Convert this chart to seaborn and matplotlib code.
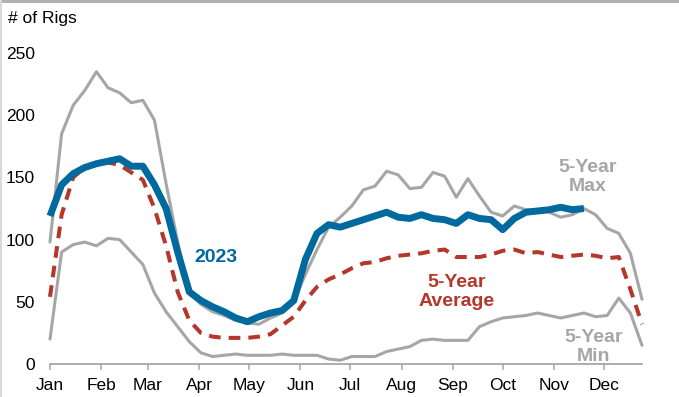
import matplotlib
matplotlib.use("Agg")
import matplotlib.pyplot as plt
import matplotlib.dates as mdates
from matplotlib.lines import Line2D
import seaborn as sns
import pandas as pd

# ---- data (weekly) ----
week_start = "2023-01-01"
n_weeks = 52

max_5y = [98, 185, 208, 220, 235, 222, 218, 210, 212, 196,
          145, 98, 57, 48, 42, 39, 35, 33, 32, 37,
          41, 50, 72, 92, 110, 118, 127, 140, 143, 155,
          152, 141, 142, 154, 151, 134, 149, 135, 122, 119,
          127, 124, 124, 122, 118, 120, 125, 120, 109, 105,
          89, 52]
min_5y = [20, 90, 96, 98, 95, 101, 100, 90, 80, 57,
          42, 30, 18, 9, 6, 7, 8, 7, 7, 7,
          8, 7, 7, 7, 4, 3, 6, 6, 6, 10,
          12, 14, 19, 20, 19, 19, 19, 30, 34, 37,
          38, 39, 41, 39, 37, 39, 41, 38, 39, 53,
          41, 15]
avg_5y = [54, 120, 150, 158, 162, 162, 160, 154, 148, 125,
          95, 58, 35, 25, 22, 21, 21, 21, 22, 24,
          31, 38, 51, 62, 68, 72, 77, 81, 82, 85,
          87, 88, 89, 91, 92, 86, 86, 86, 88, 91,
          92, 89, 90, 88, 86, 87, 88, 87, 85, 86,
          60, 32]
y2023 = [119, 144, 153, 158, 161, 163, 165, 159, 159, 144,
         125, 90, 58, 51, 46, 42, 37, 34, 38, 41,
         43, 51, 84, 105, 112, 110, 113, 116, 119, 122,
         118, 117, 120, 117, 116, 113, 120, 117, 116, 108,
         117, 122, 123, 124, 126, 124, 125]

y_ticks = [0, 50, 100, 150, 200, 250]

weeks = pd.date_range(week_start, periods=n_weeks, freq="7D")

GRAY = "#A6A6A6"
RED = "#B5362A"
BLUE = "#00699E"

sns.set_theme(style="white")
plt.rcParams["font.family"] = ["Liberation Sans", "DejaVu Sans"]

fig = plt.figure(figsize=(6.79, 3.97), dpi=100)
ax = fig.add_axes([50 / 679, 1 - 364 / 397, (642 - 50) / 679, (364 - 53) / 397])

sns.lineplot(x=weeks, y=max_5y, ax=ax, color=GRAY, linewidth=2.2, clip_on=False)
sns.lineplot(x=weeks, y=min_5y, ax=ax, color=GRAY, linewidth=2.2, clip_on=False)
sns.lineplot(x=weeks, y=avg_5y, ax=ax, color=RED, linewidth=2.9, clip_on=False)
ax.lines[-1].set_dashes([2.9, 2.0])
sns.lineplot(x=weeks[:len(y2023)], y=y2023, ax=ax, color=BLUE, linewidth=5.0,
             clip_on=False, solid_joinstyle="round", solid_capstyle="butt")

ax.set_xlim(weeks[0], weeks[-1])
ax.set_ylim(0, 250)
ax.set_yticks(y_ticks)
ax.xaxis.set_major_locator(mdates.MonthLocator())
ax.xaxis.set_major_formatter(mdates.DateFormatter("%b"))
ax.set_xlabel("")
ax.set_ylabel("")

for s in ["top", "right", "left"]:
    ax.spines[s].set_visible(False)
ax.spines["bottom"].set_color(GRAY)
ax.spines["bottom"].set_linewidth(1.3)
ax.tick_params(axis="x", direction="out", length=4, width=1.1, color=GRAY,
               pad=6, labelsize=12.5, labelcolor="black", bottom=True)
ax.tick_params(axis="y", length=0, pad=11, labelsize=12.5, labelcolor="black")
ax.grid(False)

# annotations
ax.text(pd.Timestamp("2023-04-11"), 86, "2023", color=BLUE, fontsize=14,
        fontweight="bold", ha="center", va="center")
ax.text(pd.Timestamp("2023-09-03"), 58, "5-Year\nAverage", color=RED, fontsize=14,
        fontweight="bold", ha="center", va="center", linespacing=1.15)
ax.text(pd.Timestamp("2023-11-21"), 150, "5-Year\nMax", color=GRAY, fontsize=14,
        fontweight="bold", ha="center", va="center", linespacing=1.15)
ax.text(pd.Timestamp("2023-11-25"), 14, "5-Year\nMin", color=GRAY, fontsize=14,
        fontweight="bold", ha="center", va="center", linespacing=1.15, clip_on=False)

fig.text(8 / 679, 1 - 18 / 397, "# of Rigs", fontsize=12.5, ha="left", va="center",
         color="black")

# thin frame lines at top and left edges of the picture
fig.add_artist(Line2D([0, 1], [0.998, 0.998], transform=fig.transFigure,
                      color="#B0B0B0", linewidth=2.2))
fig.add_artist(Line2D([0.001, 0.001], [0, 1], transform=fig.transFigure,
                      color="#D9D9D9", linewidth=1.5))

fig.savefig("out.png", dpi=100, facecolor="white")
